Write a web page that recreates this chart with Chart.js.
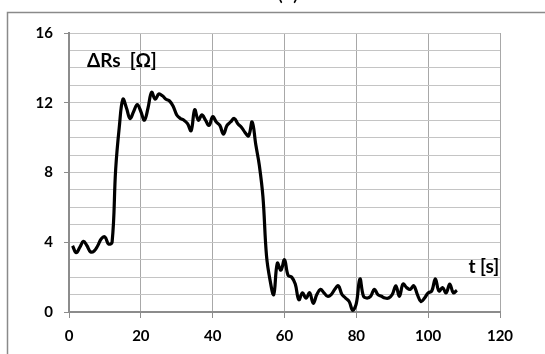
<!DOCTYPE html>
<html>
<head>
<meta charset="utf-8">
<script src="https://cdn.jsdelivr.net/npm/chart.js@4/dist/chart.umd.min.js"></script>
<style>
  html, body { margin: 0; padding: 0; background: #fff; }
</style>
</head>
<body>
<canvas id="myChart" width="545" height="354"></canvas>
<script>
// time in seconds and the resistance change in ohms
const times = [1, 2, 3, 4, 5, 6, 7, 8, 9, 10, 11, 12, 13, 14, 15, 16, 17, 18, 19, 20,
  21, 22, 23, 24, 25, 26, 27, 28, 29, 30, 31, 32, 33, 34, 35, 36, 37, 38, 39, 40,
  41, 42, 43, 44, 45, 46, 47, 48, 49, 50, 51, 52, 53, 54, 55, 56, 57, 58, 59, 60,
  61, 62, 63, 64, 65, 66, 67, 68, 69, 70, 71, 72, 73, 74, 75, 76, 77, 78, 79, 80,
  81, 82, 83, 84, 85, 86, 87, 88, 89, 90, 91, 92, 93, 94, 95, 96, 97, 98, 99, 100,
  101, 102, 103, 104, 105, 106, 107, 108];

const deltaRs = [3.8, 3.4, 3.7, 4.05, 3.8, 3.45, 3.5, 3.8, 4.2, 4.3, 3.9, 4.0, 8.2, 10.6, 12.2, 11.7, 11.1, 11.5, 11.9, 11.5,
  11.0, 11.7, 12.6, 12.2, 12.5, 12.4, 12.2, 12.1, 11.8, 11.3, 11.1, 11.0, 10.8, 10.4, 11.6, 11.0, 11.3, 11.0, 10.7, 11.2,
  10.9, 10.7, 10.2, 10.7, 10.9, 11.1, 10.8, 10.6, 10.3, 10.1, 10.9, 9.6, 8.4, 6.6, 3.2, 1.8, 1.0, 2.8, 2.4, 3.0,
  2.1, 2.0, 1.6, 0.7, 1.1, 0.8, 1.1, 0.5, 1.0, 1.3, 1.1, 0.9, 1.0, 1.3, 1.5, 1.0, 0.8, 0.6, 0.1, 0.5,
  1.9, 0.9, 0.8, 0.9, 1.3, 1.0, 0.9, 0.8, 0.8, 1.0, 1.5, 0.9, 1.6, 1.4, 1.3, 1.5, 1.0, 0.6, 0.8, 1.1,
  1.2, 1.9, 1.2, 1.4, 1.1, 1.6, 1.1, 1.25];

const xTickStep = 20;
const yLabelStep = 4;

const yTitle = "\u0394Rs  [\u03a9]";
const xTitle = "t [s]";
const panelTitle = "(a)";

var fontFamily = "Lato";
var textColor = "#000000";
var hGridColor = "#c4c4c4";
var vGridColor = "#a8a8a8";
var axisColor = "#8c8c8c";

// frame round the whole chart, axis titles inside the plot, cut-off panel label on top
const decorations = {
  id: 'decorations',
  beforeDraw(chart) {
    const c = chart.ctx;
    c.save();
    c.strokeStyle = "#8a8a8a";
    c.lineWidth = 1.5;
    c.strokeRect(7.5, 12.5, 700, 500);
    c.restore();
  },
  afterDraw(chart) {
    const c = chart.ctx;
    const x = chart.scales.x;
    const y = chart.scales.y;
    c.save();
    c.fillStyle = textColor;
    c.font = "bold 19px " + fontFamily;
    c.textBaseline = "middle";
    c.textAlign = "left";
    c.fillText(yTitle, x.getPixelForValue(5.0), y.getPixelForValue(14.4));
    c.fillText(xTitle, x.getPixelForValue(111.2), y.getPixelForValue(2.6));
    // panel label sits mostly above the top edge, only the brackets show
    c.textAlign = "center";
    c.textBaseline = "alphabetic";
    c.font = "22px " + fontFamily;
    c.fillText(panelTitle, 288, -0.5);
    c.restore();
  }
};

const ctx = document.getElementById('myChart');

new Chart(ctx, {
  type: 'line',
  data: {
    datasets: [{
      data: times.map((t, i) => ({ x: t, y: deltaRs[i] })),
      borderColor: '#000000',
      borderWidth: 3.2,
      pointRadius: 0,
      tension: 0.4,
      fill: false
    }]
  },
  options: {
    responsive: false,
    animation: false,
    layout: { padding: { left: 0, top: 33, right: 45, bottom: 0 } },
    plugins: {
      legend: { display: false },
      tooltip: { enabled: false }
    },
    scales: {
      x: {
        type: 'linear',
        min: 0,
        max: 120,
        afterFit: (s) => { s.height = 42; },
        ticks: {
          stepSize: xTickStep,
          color: textColor,
          font: { family: fontFamily, size: 15, weight: 'bold' },
          padding: 9,
          maxRotation: 0
        },
        grid: {
          color: vGridColor,
          lineWidth: 1,
          tickLength: 6,
          tickColor: axisColor
        },
        border: { color: axisColor, width: 2 }
      },
      y: {
        min: 0,
        max: 16,
        afterFit: (s) => { s.width = 69; },
        ticks: {
          stepSize: 1,
          autoSkip: false,
          color: textColor,
          font: { family: fontFamily, size: 15, weight: 'bold' },
          padding: 11,
          callback: (v) => (v % yLabelStep === 0 ? v : '')
        },
        grid: {
          color: hGridColor,
          lineWidth: 1,
          tickLength: 5,
          tickColor: (c) => (c.tick && c.tick.value % yLabelStep === 0 ? axisColor : 'rgba(0,0,0,0)')
        },
        border: { color: axisColor, width: 2 }
      }
    }
  },
  plugins: [decorations]
});
</script>
</body>
</html>
